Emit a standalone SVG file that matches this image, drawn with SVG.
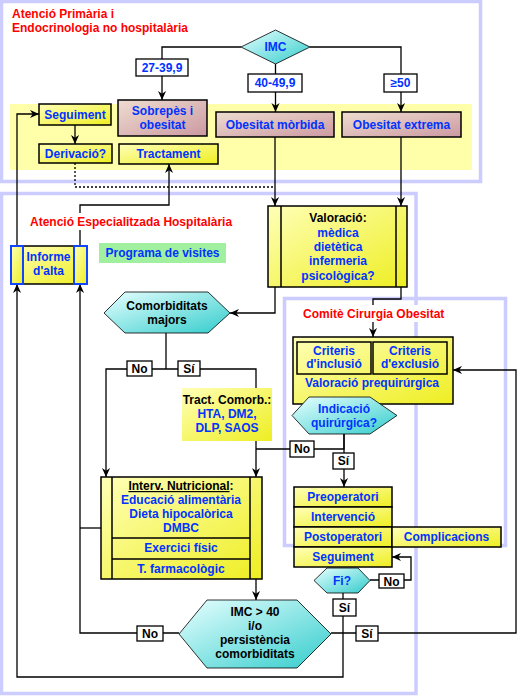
<svg xmlns="http://www.w3.org/2000/svg" width="525" height="697" viewBox="0 0 525 697">
<defs>
<linearGradient id="gy" x1="0" y1="0" x2="1" y2="1"><stop offset="0" stop-color="#FFFFB8"/><stop offset="1" stop-color="#EEEE22"/></linearGradient>
<linearGradient id="gp" x1="0" y1="0" x2="1" y2="1"><stop offset="0" stop-color="#EEDDD0"/><stop offset="1" stop-color="#CC99A2"/></linearGradient>
<linearGradient id="gc" x1="0" y1="0" x2="1" y2="1"><stop offset="0" stop-color="#E8FFFF"/><stop offset="1" stop-color="#33CCCC"/></linearGradient>
<marker id="ah" viewBox="0 0 10 10" refX="10" refY="5" markerWidth="9" markerHeight="9" markerUnits="userSpaceOnUse" orient="auto"><path d="M0,0.5 L10,5 L0,9.5 L3,5 z" fill="#000"/></marker>
</defs>
<style>
.frame{fill:none;stroke:#CCCCFF;stroke-width:3.5}
.c{fill:none;stroke:#000;stroke-width:1.3}
.a{marker-end:url(#ah)}
.dot{stroke-dasharray:2,2}
.box{stroke:#000;stroke-width:1.5}
.yb{fill:url(#gy)}
.pb{fill:url(#gp)}
.hx{fill:url(#gc);stroke:#000;stroke-width:0.8}
.lbl{fill:#fff;stroke:#000;stroke-width:1.3}
text{font-family:"Liberation Sans",Arial,sans-serif;font-weight:bold;font-size:12px;text-anchor:middle}
.b{fill:#0033FF}
.k{fill:#000}
.r{fill:#FF0000;text-anchor:start}
</style>
<rect width="525" height="697" fill="#fff"/>

<g id="frames">
<rect class="frame" x="1.5" y="1.5" width="479" height="180"/>
<rect x="10" y="104" width="462" height="66" fill="#FFFFAA"/>
<rect class="frame" x="1.5" y="193.5" width="414.5" height="500"/>
<rect class="frame" x="284.5" y="298.5" width="221" height="247"/>
</g>

<g id="connectors">
<path class="c a" d="M241,47 H162 V100"/>
<path class="c a" d="M275.5,64 V112"/>
<path class="c a" d="M310,47 H401 V112"/>
<path class="c a" d="M275,137 V206"/>
<path class="c a" d="M401,137 V206"/>
<path class="c dot" d="M75,163 V187 H275"/>
<path class="c a" d="M75,125 V144"/>
<path class="c a" d="M17,246 V114 H39"/>
<path class="c a" d="M80,246 V205 H169 V164"/>
<path class="c a" d="M275,287 V313 H230"/>
<path class="c a" d="M401,287 V299 H373 V337"/>
<path class="c" d="M166,333 V369"/>
<path class="c a" d="M166,369 H106 V477"/>
<path class="c a" d="M166,369 H256 V477"/>
<path class="c" d="M344,434 V449 H256"/>
<path class="c a" d="M344,434 V487"/>
<path class="c a" d="M256,579 V600"/>
<path class="c a" d="M179,633 H80 V284"/>
<path class="c" d="M80,528 H101"/>
<path class="c a" d="M331,633 H516 V370 H453"/>
<path class="c a" d="M370,580 H411 V557 H392"/>
<path class="c a" d="M343,593 V677 H17 V284"/>
</g>

<g id="titles">
<text class="r" x="12" y="18">Atenció Primària i</text>
<text class="r" x="12" y="32">Endocrinologia no hospitalària</text>
<rect x="28" y="213" width="206" height="17" fill="#fff"/>
<text class="r" x="30" y="226">Atenció Especialitzada Hospitalària</text>
<rect x="300" y="305" width="148" height="17" fill="#fff"/>
<text class="r" x="303" y="318">Comitè Cirurgia Obesitat</text>
</g>

<g id="imc">
<polygon class="hx" points="241,47 275.5,30 310,47 275.5,64"/>
<text class="b" x="275.5" y="51">IMC</text>
</g>
<g id="l27">
<rect class="lbl" x="136" y="59" width="52" height="17"/>
<text class="b" x="162" y="72">27-39,9</text>
</g>
<g id="l40">
<rect class="lbl" x="248" y="74" width="54" height="18"/>
<text class="b" x="275" y="87">40-49,9</text>
</g>
<g id="l50">
<rect class="lbl" x="384" y="74" width="33" height="18"/>
<text class="b" x="400.5" y="87">≥50</text>
</g>

<g id="sobrepes">
<rect class="box pb" x="118" y="100" width="89" height="36"/>
<text class="b" x="162.5" y="115">Sobrepès i</text>
<text class="b" x="162.5" y="129">obesitat</text>
</g>
<g id="morbida">
<rect class="box pb" x="216" y="112" width="118" height="25"/>
<text class="b" x="275" y="129">Obesitat mòrbida</text>
</g>
<g id="extrema">
<rect class="box pb" x="342" y="112" width="119" height="25"/>
<text class="b" x="401.5" y="129">Obesitat extrema</text>
</g>
<g id="seguiment1">
<rect class="box yb" x="39" y="104" width="72" height="21"/>
<text class="b" x="75" y="119">Seguiment</text>
</g>
<g id="derivacio">
<rect class="box yb" x="39" y="144" width="73" height="19"/>
<text class="b" x="75.5" y="158">Derivació?</text>
</g>
<g id="tractament">
<rect class="box yb" x="119" y="144" width="99" height="20"/>
<text class="b" x="168.5" y="158">Tractament</text>
</g>

<g id="informe">
<rect class="yb" x="11" y="246" width="76" height="38" stroke="#000" stroke-width="1.5"/>
<rect class="yb" x="11" y="246" width="12" height="38" stroke="#1144FF" stroke-width="2"/>
<rect class="yb" x="74" y="246" width="13" height="38" stroke="#1144FF" stroke-width="2"/>
<text class="b" x="48.5" y="261">Informe</text>
<text class="b" x="48.5" y="275">d'alta</text>
</g>

<g id="programa">
<rect x="99" y="243" width="127" height="20" fill="#A0F0A0"/>
<text class="b" x="162.5" y="257">Programa de visites</text>
</g>

<g id="valoracio">
<rect class="box yb" x="268" y="206" width="139" height="81"/>
<path class="box" d="M281,206 V287 M396,206 V287" fill="none"/>
<text class="k" x="338" y="222">Valoració:</text>
<text class="b" x="338" y="237">mèdica</text>
<text class="b" x="338" y="251">dietètica</text>
<text class="b" x="338" y="265">infermeria</text>
<text class="b" x="338" y="280">psicològica?</text>
</g>

<g id="comorbiditats">
<polygon class="hx" points="104,313 125,292 208,292 230,313 208,333 125,333"/>
<text class="k" x="167" y="310">Comorbiditats</text>
<text class="k" x="167" y="324">majors</text>
</g>
<g id="lNo1">
<rect class="lbl" x="127" y="361" width="25" height="15"/>
<text class="k" x="139.5" y="373">No</text>
</g>
<g id="lSi1">
<rect class="lbl" x="178" y="361" width="22" height="15"/>
<text class="k" x="189" y="373">Sí</text>
</g>

<g id="tractcomorb">
<rect class="yb" x="182" y="388" width="90" height="53"/>
<text class="k" x="227" y="404">Tract. Comorb.:</text>
<text class="b" x="227" y="418">HTA, DM2,</text>
<text class="b" x="227" y="432">DLP, SAOS</text>
</g>

<g id="criteris">
<rect class="box yb" x="293" y="337" width="160" height="67"/>
<rect class="box" x="297" y="342" width="74" height="32" fill="none"/>
<rect class="box" x="373" y="342" width="74" height="32" fill="none"/>
<text class="b" x="334" y="355">Criteris</text>
<text class="b" x="334" y="368">d'inclusió</text>
<text class="b" x="410" y="355">Criteris</text>
<text class="b" x="410" y="368">d'exclusió</text>
<text class="b" x="372" y="387">Valoració prequirúrgica</text>
</g>
<g id="indicacio">
<polygon class="hx" points="292,415.5 309,397 370,397 397,415.5 370,434 309,434"/>
<text class="b" x="344" y="413">Indicació</text>
<text class="b" x="344" y="427">quirúrgica?</text>
</g>
<g id="lNo2">
<rect class="lbl" x="290" y="441" width="24" height="16"/>
<text class="k" x="302" y="453">No</text>
</g>
<g id="lSi2">
<rect class="lbl" x="333" y="453" width="21" height="16"/>
<text class="k" x="343.5" y="465">Sí</text>
</g>

<g id="interv">
<rect class="box yb" x="101" y="477" width="161" height="102"/>
<path class="box" d="M112,477 V579 M250,477 V579 M112,538 H250 M112,559 H250" fill="none"/>
<text class="k" x="181" y="490"><tspan text-decoration="underline">Interv. Nutricional</tspan>:</text>
<text class="b" x="181" y="504">Educació alimentària</text>
<text class="b" x="181" y="518">Dieta hipocalòrica</text>
<text class="b" x="181" y="532">DMBC</text>
<text class="b" x="181" y="552">Exercici físic</text>
<text class="b" x="181" y="573">T. farmacològic</text>
</g>

<g id="cirurgia">
<rect class="box yb" x="294" y="487" width="98" height="20"/>
<text class="b" x="343" y="501">Preoperatori</text>
<rect class="box yb" x="294" y="507" width="98" height="20"/>
<text class="b" x="343" y="521">Intervenció</text>
<rect class="box yb" x="294" y="527" width="98" height="20"/>
<text class="b" x="343" y="541">Postoperatori</text>
<rect class="box yb" x="294" y="547" width="98" height="20"/>
<text class="b" x="343" y="561">Seguiment</text>
</g>
<g id="complicacions">
<rect class="box yb" x="392" y="527" width="109" height="20"/>
<text class="b" x="446.5" y="541">Complicacions</text>
</g>

<g id="fi">
<polygon class="hx" points="314,580.5 327,568 358,568 370,580.5 358,593 327,593"/>
<text class="b" x="342" y="585">Fi?</text>
</g>
<g id="lNo3">
<rect class="lbl" x="379" y="574" width="25" height="14"/>
<text class="k" x="391.5" y="585.5">No</text>
</g>
<g id="lSi3">
<rect class="lbl" x="333" y="599" width="23" height="17"/>
<text class="k" x="344.5" y="612">Sí</text>
</g>

<g id="imc40">
<polygon class="hx" points="179,634 207,600 297,600 331,634 297,668 207,668"/>
<text class="k" x="255" y="616">IMC &gt; 40</text>
<text class="k" x="255" y="630">i/o</text>
<text class="k" x="255" y="644">persistència</text>
<text class="k" x="255" y="658">comorbiditats</text>
</g>
<g id="lNo4">
<rect class="lbl" x="137" y="626" width="26" height="15"/>
<text class="k" x="150" y="638">No</text>
</g>
<g id="lSi4">
<rect class="lbl" x="356" y="626" width="22" height="15"/>
<text class="k" x="367" y="638">Sí</text>
</g>
</svg>
